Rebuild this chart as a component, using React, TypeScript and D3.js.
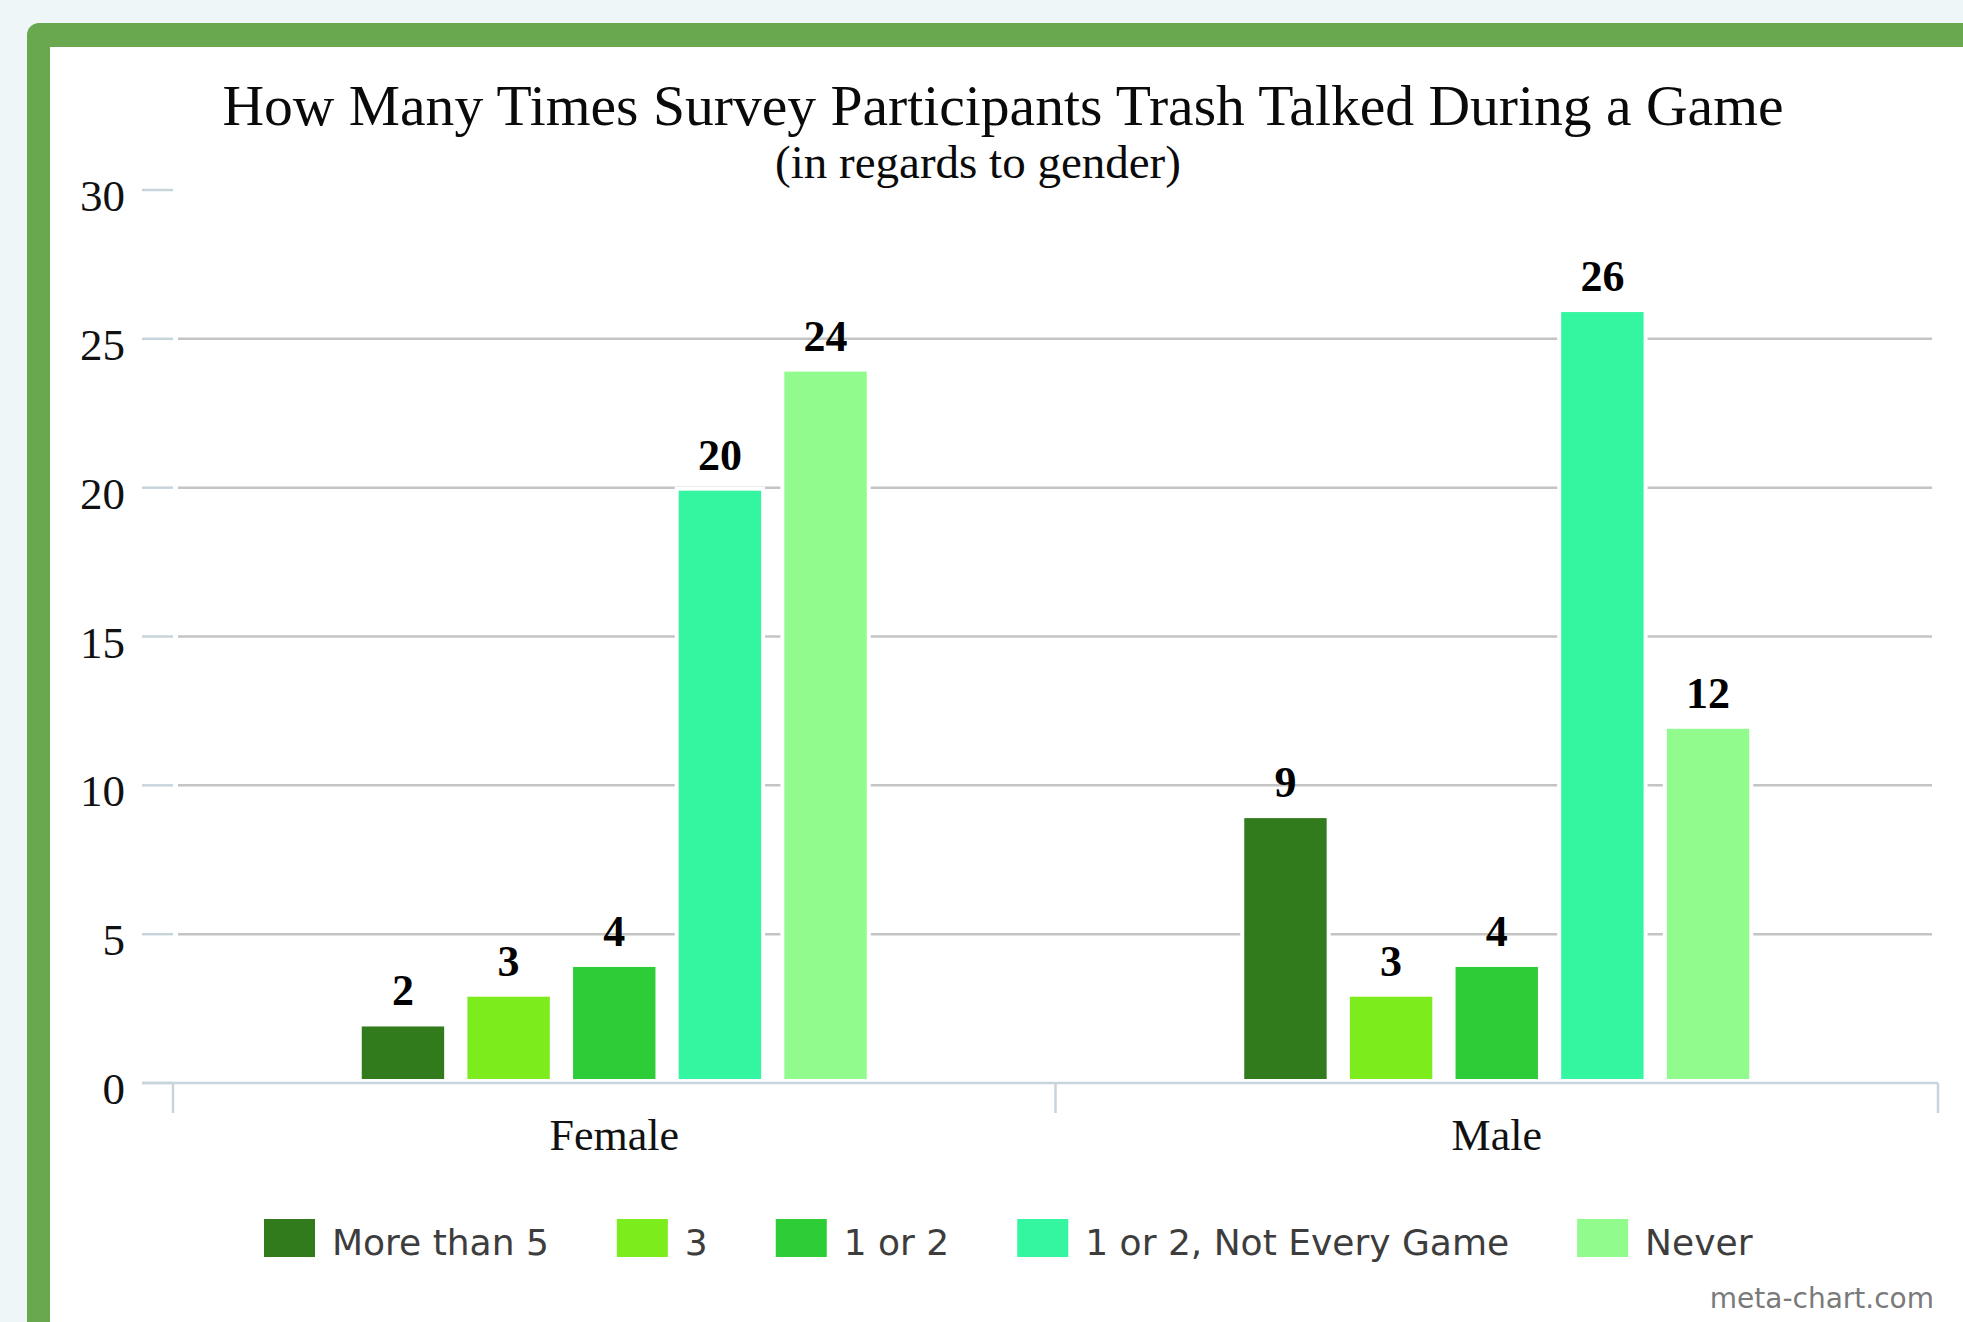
import React from "react";
import * as d3 from "d3";

// Survey counts per gender and answer
const genders = ["Female", "Male"];
const answers = ["More than 5", "3", "1 or 2", "1 or 2, Not Every Game", "Never"];
const femaleCounts = [2, 3, 4, 20, 24];
const maleCounts = [9, 3, 4, 26, 12];
const yTicks = [0, 5, 10, 15, 20, 25, 30];
const answerColors = ["#317b1d", "#7cec1d", "#2ccd37", "#34f5a0", "#91fb8e"];

const titleText = "How Many Times Survey Participants Trash Talked During a Game";
const subtitleText = "(in regards to gender)";

const W = 1963;
const H = 1322;

const serif = "'Liberation Serif', 'Times New Roman', serif";
const sans = "'DejaVu Sans', Verdana, sans-serif";

function measure(text: string, font: string): number {
  const c = document.createElement("canvas").getContext("2d");
  if (!c) return text.length * 20;
  c.font = font;
  return c.measureText(text).width;
}

export default function App() {
  const countsByGender: Record<string, number[]> = {
    Female: femaleCounts,
    Male: maleCounts,
  };

  const y = d3.scaleLinear().domain([0, 30]).range([1083, 190]);
  const x0 = d3.scaleBand<string>().domain(genders).range([173, 1938]);
  const groupWidth = 505;
  const x1 = d3
    .scaleBand<string>()
    .domain(answers)
    .range([0, groupWidth])
    .paddingInner(0.22)
    .paddingOuter(0);

  const halo = 4; // white outline around each bar
  const inset = 3; // bars sit slightly inside their outline
  const bottomGap = 4;

  // legend layout
  const legendFont = `36px 'DejaVu Sans'`;
  let lx = 264;
  const legendItems = answers.map((a, i) => {
    const item = { label: a, color: answerColors[i], x: lx };
    lx += 68 + measure(a, legendFont) + 68;
    return item;
  });

  return (
    <svg
      width={W}
      height={H}
      style={{ position: "absolute", left: 0, top: 0, display: "block" }}
    >
      <rect x={0} y={0} width={W} height={H} fill="#eef6f8" />
      {/* frame */}
      <rect x={27} y={23} width={W} height={H} rx={12} fill="#6aa84f" />
      <rect x={50} y={47} width={W} height={H} fill="#ffffff" />

      {/* titles */}
      <text
        x={1003}
        y={125}
        textAnchor="middle"
        fontFamily={serif}
        fontSize={57.6}
        fill="#0a0a0a"
      >
        {titleText}
      </text>
      <text
        x={978}
        y={178}
        textAnchor="middle"
        fontFamily={serif}
        fontSize={47}
        fill="#0a0a0a"
      >
        {subtitleText}
      </text>

      {/* y axis ticks, labels and grid */}
      {yTicks.map((t) => (
        <g key={t}>
          <line x1={142} x2={173} y1={y(t)} y2={y(t)} stroke="#c8d4dc" strokeWidth={2.5} />
          {t > 0 && t < 30 && (
            <line x1={178} x2={1932} y1={y(t)} y2={y(t)} stroke="#c4c4c4" strokeWidth={2.5} />
          )}
          <text
            x={125}
            y={y(t) + 21}
            textAnchor="end"
            fontFamily={serif}
            fontSize={45}
            fill="#111"
          >
            {t}
          </text>
        </g>
      ))}

      {/* x axis */}
      <line x1={142} x2={1938} y1={y(0)} y2={y(0)} stroke="#c8d4dc" strokeWidth={2.5} />
      {[...genders.map((g) => x0(g) as number), 1938].map((tx, i) => (
        <line key={i} x1={tx} x2={tx} y1={y(0)} y2={y(0) + 30} stroke="#c8d4dc" strokeWidth={2.5} />
      ))}
      {genders.map((g) => (
        <text
          key={g}
          x={(x0(g) as number) + x0.bandwidth() / 2}
          y={1150}
          textAnchor="middle"
          fontFamily={serif}
          fontSize={44}
          fill="#111"
        >
          {g}
        </text>
      ))}

      {/* bars */}
      {genders.map((g) => {
        const gx = (x0(g) as number) + (x0.bandwidth() - groupWidth) / 2;
        return (
          <g key={g} transform={`translate(${gx},0)`}>
            {countsByGender[g].map((v, i) => {
              const bx = x1(answers[i]) as number;
              const bw = x1.bandwidth();
              const top = y(v) + inset;
              const bottom = y(0) - bottomGap;
              return (
                <g key={i}>
                  <rect
                    x={bx - halo}
                    y={top - halo}
                    width={bw + 2 * halo}
                    height={bottom - top + halo + 2}
                    fill="#ffffff"
                  />
                  <rect x={bx} y={top} width={bw} height={bottom - top} fill={answerColors[i]} />
                  <text
                    x={bx + bw / 2}
                    y={top - 21}
                    textAnchor="middle"
                    fontFamily={serif}
                    fontWeight="bold"
                    fontSize={44}
                    fill="#000"
                  >
                    {v}
                  </text>
                </g>
              );
            })}
          </g>
        );
      })}

      {/* legend */}
      {legendItems.map((it) => (
        <g key={it.label}>
          <rect x={it.x} y={1219} width={51} height={38} fill={it.color} />
          <text x={it.x + 68} y={1255} fontFamily={sans} fontSize={36} fill="#3d3d3d">
            {it.label}
          </text>
        </g>
      ))}

      <text x={1934} y={1308} textAnchor="end" fontFamily={sans} fontSize={28} fill="#7a7a7a">
        meta-chart.com
      </text>
    </svg>
  );
}
